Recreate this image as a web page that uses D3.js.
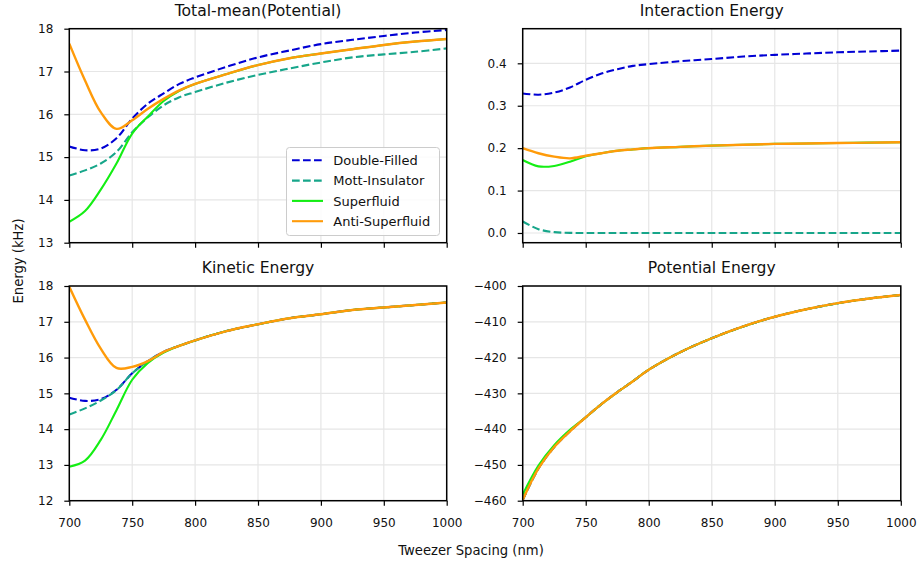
<!DOCTYPE html>
<html>
<head>
<meta charset="utf-8">
<script src="https://cdn.jsdelivr.net/npm/d3@7"></script>
<style>
  html, body { margin: 0; padding: 0; background: #fff; }
  svg { display: block; font-family: "DejaVu Sans", sans-serif; }
</style>
</head>
<body>
<svg id="chart" width="919" height="565"></svg>
<script>
// Tweezer spacing samples (nm)
const spacing = [700, 712.5, 725, 737.5, 750, 762.5, 775, 787.5, 800, 825, 850, 875, 900, 925, 950, 975, 1000];

// Total-mean (potential) energies, kHz
const totalDouble = [15.25, 15.16, 15.20, 15.44, 15.90, 16.25, 16.49, 16.71, 16.86, 17.11, 17.33, 17.49, 17.64, 17.74, 17.83, 17.91, 17.97];
const totalMott   = [14.57, 14.69, 14.85, 15.12, 15.58, 15.93, 16.21, 16.40, 16.52, 16.74, 16.92, 17.07, 17.21, 17.33, 17.40, 17.46, 17.54];
const totalSuper  = [13.49, 13.74, 14.24, 14.85, 15.55, 15.95, 16.31, 16.55, 16.71, 16.94, 17.15, 17.31, 17.42, 17.52, 17.62, 17.70, 17.76];
const totalAnti   = [17.65, 16.79, 16.05, 15.66, 15.86, 16.13, 16.36, 16.56, 16.71, 16.94, 17.15, 17.31, 17.42, 17.52, 17.62, 17.70, 17.76];

// Interaction energies, kHz
const interDouble = [0.329, 0.326, 0.331, 0.343, 0.361, 0.376, 0.386, 0.394, 0.398, 0.405, 0.410, 0.416, 0.420, 0.423, 0.426, 0.428, 0.430];
const interMott   = [0.027, 0.009, 0.002, 0.0003, 0, 0, 0, 0, 0, 0, 0, 0, 0, 0, 0, 0, 0];
const interSuper  = [0.172, 0.157, 0.158, 0.168, 0.181, 0.188, 0.194, 0.197, 0.200, 0.203, 0.206, 0.208, 0.210, 0.211, 0.212, 0.213, 0.214];
const interAnti   = [0.200, 0.188, 0.180, 0.176, 0.182, 0.188, 0.194, 0.197, 0.200, 0.203, 0.206, 0.208, 0.210, 0.211, 0.212, 0.213, 0.214];

// Kinetic energies, kHz
const kinDouble = [14.88, 14.79, 14.84, 15.10, 15.56, 15.90, 16.16, 16.33, 16.48, 16.74, 16.93, 17.10, 17.21, 17.33, 17.40, 17.47, 17.54];
const kinMott   = [14.41, 14.58, 14.80, 15.09, 15.56, 15.90, 16.16, 16.33, 16.48, 16.74, 16.93, 17.10, 17.21, 17.33, 17.40, 17.47, 17.54];
const kinSuper  = [12.95, 13.12, 13.70, 14.53, 15.38, 15.85, 16.14, 16.33, 16.48, 16.74, 16.93, 17.10, 17.21, 17.33, 17.40, 17.47, 17.54];
const kinAnti   = [17.98, 17.06, 16.25, 15.71, 15.74, 15.90, 16.16, 16.33, 16.48, 16.74, 16.93, 17.10, 17.21, 17.33, 17.40, 17.47, 17.54];

// Potential energies, kHz
const potAnti  = [-459.8, -451.0, -445.0, -440.6, -436.7, -433.0, -429.7, -426.6, -423.4, -418.5, -414.6, -411.3, -408.6, -406.5, -404.8, -403.5, -402.5];
const potSuper = [-458.3, -450.2, -444.5, -440.2, -436.7, -433.0, -429.7, -426.6, -423.4, -418.5, -414.6, -411.3, -408.6, -406.5, -404.8, -403.5, -402.5];
const potDouble = potAnti;
const potMott   = potAnti;

// Tick values
const xTicks = [700, 750, 800, 850, 900, 950, 1000];
const totalTicks = [13, 14, 15, 16, 17, 18];
const interTicks = [0.0, 0.1, 0.2, 0.3, 0.4];
const kinTicks = [12, 13, 14, 15, 16, 17, 18];
const potTicks = [-460, -450, -440, -430, -420, -410, -400];

const seriesNames = ["Double-Filled", "Mott-Insulator", "Superfluid", "Anti-Superfluid"];
const seriesColors = ["#0000d4", "#17a68a", "#14ee14", "#ff9b0a"];
const seriesDashed = [true, true, false, false];
const seriesWidth = [2.1, 2.1, 2.1, 2.4];

const svg = d3.select("#chart");
const textColor = "#111";

const panels = [
  { title: "Total-mean(Potential)", left: 69.3, right: 446.7, top: 28.7, bottom: 242.7,
    yDomain: [13, 18], yTicks: totalTicks, fmt: d3.format("d"), xLabels: false,
    data: [totalDouble, totalMott, totalSuper, totalAnti] },
  { title: "Interaction Energy", left: 522.7, right: 900.8, top: 28.7, bottom: 242.7,
    yDomain: [-0.0229, 0.4816], yTicks: interTicks, fmt: d3.format(".1f"), xLabels: false,
    data: [interDouble, interMott, interSuper, interAnti] },
  { title: "Kinetic Energy", left: 69.3, right: 446.7, top: 286, bottom: 500.7,
    yDomain: [12, 18], yTicks: kinTicks, fmt: d3.format("d"), xLabels: true,
    data: [kinDouble, kinMott, kinSuper, kinAnti] },
  { title: "Potential Energy", left: 522.7, right: 900.8, top: 286, bottom: 500.7,
    yDomain: [-460, -400], yTicks: potTicks, fmt: d => d3.format("d")(d).replace("-", "\u2212"), xLabels: true,
    data: [potDouble, potMott, potSuper, potAnti] }
];

panels.forEach((p, i) => {
  const x = d3.scaleLinear().domain([700, 1000]).range([p.left, p.right]);
  const y = d3.scaleLinear().domain(p.yDomain).range([p.bottom, p.top]);
  const g = svg.append("g");

  // grid
  g.append("g").selectAll("line").data(xTicks).join("line")
    .attr("x1", d => x(d)).attr("x2", d => x(d))
    .attr("y1", p.top).attr("y2", p.bottom)
    .attr("stroke", "#e6e6e6").attr("stroke-width", 1.2);
  g.append("g").selectAll("line").data(p.yTicks).join("line")
    .attr("x1", p.left).attr("x2", p.right)
    .attr("y1", d => y(d)).attr("y2", d => y(d))
    .attr("stroke", "#e6e6e6").attr("stroke-width", 1.2);

  // clip
  svg.append("clipPath").attr("id", "clip" + i).append("rect")
    .attr("x", p.left).attr("y", p.top)
    .attr("width", p.right - p.left).attr("height", p.bottom - p.top);

  const line = d3.line()
    .x((d, j) => x(spacing[j]))
    .y(d => y(d))
    .curve(d3.curveCatmullRom.alpha(0.5));

  const lines = g.append("g").attr("clip-path", `url(#clip${i})`);
  p.data.forEach((vals, k) => {
    lines.append("path")
      .datum(vals)
      .attr("d", line)
      .attr("fill", "none")
      .attr("stroke", seriesColors[k])
      .attr("stroke-width", seriesWidth[k])
      .attr("stroke-dasharray", seriesDashed[k] ? "7.7,3.3" : null);
  });

  // axes
  const xAxis = d3.axisBottom(x).tickValues(xTicks).tickSize(5).tickPadding(12.3)
    .tickFormat(p.xLabels ? d3.format("d") : "");
  const yAxis = d3.axisLeft(y).tickValues(p.yTicks).tickSize(5).tickPadding(11).tickFormat(p.fmt);

  const gx = g.append("g").attr("transform", `translate(0,${p.bottom})`).call(xAxis);
  const gy = g.append("g").attr("transform", `translate(${p.left},0)`).call(yAxis);
  [gx, gy].forEach(a => {
    a.select(".domain").remove();
    a.selectAll(".tick line").attr("stroke", "#000").attr("stroke-width", 1.2);
    a.selectAll(".tick text").attr("fill", textColor)
      .style("font-family", "DejaVu Sans, sans-serif").style("font-size", "12px");
  });

  // frame
  g.append("rect")
    .attr("x", p.left).attr("y", p.top)
    .attr("width", p.right - p.left).attr("height", p.bottom - p.top)
    .attr("fill", "none").attr("stroke", "#000").attr("stroke-width", 1.5);

  // title
  g.append("text")
    .attr("x", (p.left + p.right) / 2).attr("y", p.top - 12.7)
    .attr("text-anchor", "middle")
    .attr("fill", textColor)
    .style("font-size", "15.6px")
    .text(p.title);

  // legend in the first panel
  if (i === 0) {
    const lg = g.append("g");
    lg.append("rect")
      .attr("x", 286.5).attr("y", 147.5).attr("width", 153).attr("height", 88)
      .attr("rx", 3).attr("ry", 3)
      .attr("fill", "#fff").attr("fill-opacity", 0.85)
      .attr("stroke", "#cccccc").attr("stroke-width", 1);
    seriesNames.forEach((name, k) => {
      const cy = 160.3 + k * 20.3;
      lg.append("line")
        .attr("x1", 292).attr("x2", 323).attr("y1", cy).attr("y2", cy)
        .attr("stroke", seriesColors[k]).attr("stroke-width", 2.1)
        .attr("stroke-dasharray", seriesDashed[k] ? "7.7,3.3" : null);
      lg.append("text")
        .attr("x", 333.3).attr("y", cy + 4.8)
        .attr("fill", textColor)
        .style("font-size", "13px")
        .text(name);
    });
  }
});

// shared axis labels
svg.append("text")
  .attr("x", 471).attr("y", 555)
  .attr("text-anchor", "middle")
  .attr("fill", textColor)
  .style("font-size", "13.2px")
  .text("Tweezer Spacing (nm)");

svg.append("text")
  .attr("transform", "translate(22.5,261) rotate(-90)")
  .attr("text-anchor", "middle")
  .attr("fill", textColor)
  .style("font-size", "13.2px")
  .text("Energy (kHz)");
</script>
</body>
</html>
